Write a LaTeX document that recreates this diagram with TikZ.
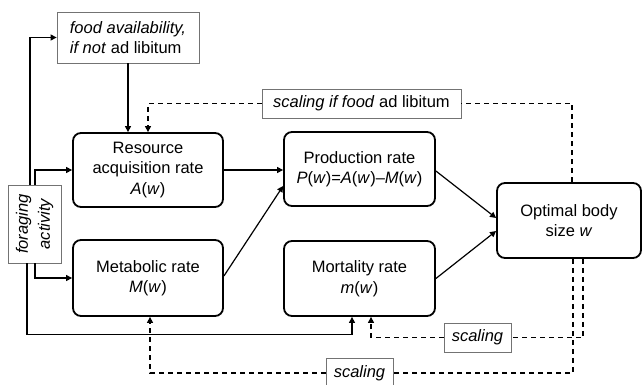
\documentclass[tikz,border=0pt]{standalone}
\usepackage{fontspec}
\setmainfont{Liberation Sans}
\usetikzlibrary{arrows.meta}
\begin{document}
\begin{tikzpicture}[x=1pt,y=-1pt,
  font=\fontsize{16.5}{20.5}\selectfont,
  rbox/.style={draw=black,line width=1.8pt,rounded corners=8pt,align=center,inner sep=0pt},
  gbox/.style={draw=black!55,line width=0.8pt,inner sep=0pt},
  arr/.style={line width=1.2pt,-{Triangle[length=6pt,width=6pt]}},
  darr/.style={line width=1.2pt,dash pattern=on 5pt off 4pt,-{Triangle[length=6pt,width=6pt]}},
  dline/.style={line width=1.2pt,dash pattern=on 5pt off 4pt}]
\useasboundingbox (0,0) rectangle (643,384);
% main boxes
\node[rbox,minimum width=150pt,minimum height=74pt] (res) at (148,170) {Resource\\acquisition rate\\\textit{A}(\textit{w})};
\node[rbox,minimum width=150pt,minimum height=76pt] (met) at (148,278) {Metabolic rate\\\textit{M}(\textit{w})};
\node[rbox,minimum width=151pt,minimum height=74pt] (prod) at (359.5,169) {Production rate\\\textit{P}(\textit{w})=\textit{A}(\textit{w})–\textit{M}(\textit{w})};
\node[rbox,minimum width=151pt,minimum height=75pt] (mort) at (359.5,278.5) {Mortality rate\\\textit{m}(\textit{w})};
\node[rbox,minimum width=144pt,minimum height=75pt] (opt) at (569,220.5) {Optimal body\\size \textit{w}};
% grey label boxes
\node[gbox,minimum width=53pt,minimum height=78pt] (forag) at (34.5,224) {};
\node[rotate=90,align=center,font=\fontsize{16.5}{22}\selectfont\itshape] (foragtext) at (forag.center) {foraging\\activity};
\node[gbox,minimum width=142pt,minimum height=51pt,align=left] (food) at (128,37.5) {\textit{food availability,}\\\textit{if not} ad libitum};
\node[gbox,minimum width=199pt,minimum height=29pt] (sfood) at (361.5,103.5) {\textit{scaling if food} ad libitum};
\node[gbox,minimum width=67pt,minimum height=29pt] (sc1) at (477.5,337.5) {\textit{scaling}};
\node[gbox,minimum width=67pt,minimum height=30pt] (sc2) at (359.5,373) {\textit{scaling}};
% solid connectors
\draw[arr] ([xshift=-4.5pt]forag.north) |- (food.west);
\draw[arr] ([xshift=0.5pt]forag.north) |- (res.west);
\draw[arr] ([xshift=0.5pt]forag.south) |- (met.west);
\draw[arr] ([xshift=-7.5pt]forag.south) -- ++(0,71) -| ([xshift=-7.5pt]mort.south);
\draw[arr] (food.south) -- (food.south |- res.north);
\draw[arr] (res.east) -- (res.east -| prod.west);
\draw[arr] ([yshift=2pt]met.east) -- ([yshift=-17pt]prod.west);
\draw[arr] ([yshift=-2pt]prod.east) -- ([yshift=2.5pt]opt.west);
\draw[arr] (mort.east) -- ([yshift=-10.5pt]opt.west);
% dashed connectors
\draw[dline] ([xshift=3pt]opt.north) |- (sfood.east);
\draw[darr] (sfood.west) -| (res.north);
\draw[dline] ([xshift=14pt]opt.south) |- (sc1.east);
\draw[darr] (sc1.west) -| ([xshift=11.5pt]mort.south);
\draw[dline] ([xshift=4pt]opt.south) |- (sc2.east);
\draw[darr] (sc2.west) -| ([xshift=2pt]met.south);
\end{tikzpicture}
\end{document}
